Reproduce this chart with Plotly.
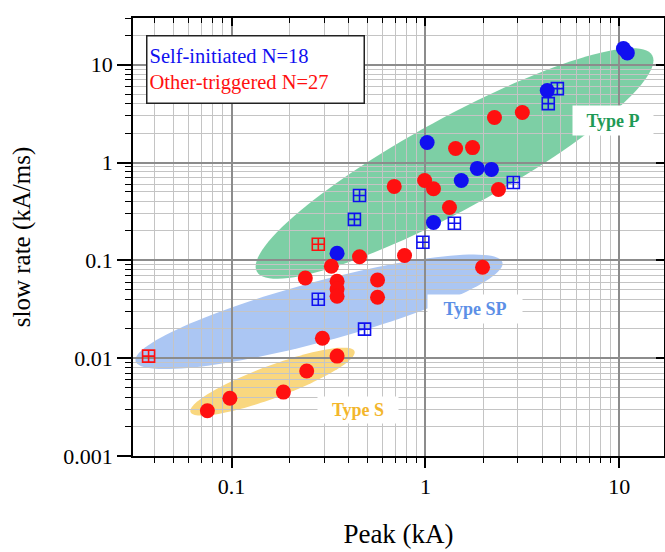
import numpy as np
import plotly.graph_objects as go

# ---------------- data ----------------
self_circle_peak = [10.5, 11.0, 4.25, 1.02, 1.53, 1.85, 2.19, 1.10, 0.35]
self_circle_rate = [14.6, 13.2, 5.43, 1.60, 0.655, 0.87, 0.85, 0.244, 0.118]

self_square_peak = [4.79, 4.30, 2.84, 1.41, 0.97, 0.457, 0.43, 0.28, 0.485]
self_square_rate = [5.69, 4.00, 0.625, 0.239, 0.153, 0.46, 0.262, 0.040, 0.0198]

other_circle_peak = [3.16, 2.27, 1.43, 1.75, 0.99, 1.10, 2.38, 1.33, 0.69,
                     0.457, 0.327, 0.78, 0.24, 0.35, 0.35, 0.35, 0.566, 0.566,
                     1.97, 0.294, 0.35, 0.244, 0.185, 0.098, 0.075]
other_circle_rate = [3.24, 2.88, 1.39, 1.42, 0.655, 0.54, 0.53, 0.347, 0.57,
                     0.109, 0.087, 0.112, 0.066, 0.061, 0.051, 0.043, 0.063, 0.042,
                     0.085, 0.016, 0.0105, 0.0074, 0.0045, 0.0039, 0.0029]

other_square_peak = [0.28, 0.0373]
other_square_rate = [0.146, 0.0105]

legend_lines = ["Self-initiated N=18", "Other-triggered N=27"]
region_labels = ["Type P", "Type SP", "Type S"]

# region ellipses in log10 space: centre, major half-vector, minor half-vector
regions = {
    "SP": dict(c=(-0.549, -1.526), u=(0.946, 0.505), v=(0.040, -0.296), color="#abc6f3"),
    "P":  dict(c=(0.150, -0.01), u=(1.02, 1.105), v=(0.112, -0.41), color="#7dcfa5"),
    "S":  dict(c=(-0.789, -2.240), u=(0.423, 0.311), v=(0.029, -0.155), color="#f9d77f"),
}

BLUE = "#1010f0"
RED = "#ff1010"
SERIF = "Liberation Serif, Times New Roman, serif"

fig = go.Figure()

# ellipses as filled paths below gridlines
t = np.linspace(0, 2 * np.pi, 121)
shapes = []
for key in ["SP", "P", "S"]:
    r = regions[key]
    lx = r["c"][0] + np.cos(t) * r["u"][0] + np.sin(t) * r["v"][0]
    ly = r["c"][1] + np.cos(t) * r["u"][1] + np.sin(t) * r["v"][1]
    xs = 10 ** lx
    ys = 10 ** ly
    path = "M " + " L ".join(f"{a:.6g},{b:.6g}" for a, b in zip(xs, ys)) + " Z"
    shapes.append(dict(type="path", path=path, xref="x", yref="y",
                       fillcolor=r["color"], line=dict(width=0), layer="below"))

fig.add_trace(go.Scatter(x=self_square_peak, y=self_square_rate, mode="markers",
                         marker=dict(symbol="square-cross-open", size=12, color=BLUE,
                                     line=dict(width=1.6, color=BLUE)),
                         showlegend=False))
fig.add_trace(go.Scatter(x=other_square_peak, y=other_square_rate, mode="markers",
                         marker=dict(symbol="square-cross-open", size=12, color=RED,
                                     line=dict(width=1.6, color=RED)),
                         showlegend=False))
fig.add_trace(go.Scatter(x=self_circle_peak, y=self_circle_rate, mode="markers",
                         marker=dict(symbol="circle", size=15, color=BLUE, line=dict(width=0)),
                         showlegend=False))
fig.add_trace(go.Scatter(x=other_circle_peak, y=other_circle_rate, mode="markers",
                         marker=dict(symbol="circle", size=15, color=RED, line=dict(width=0)),
                         showlegend=False))

xr = [np.log10(0.031), np.log10(17)]
yr = [-3, np.log10(30)]

axis_common = dict(type="log", showline=True, linecolor="black", linewidth=1.5,
                   zeroline=False)

fig.update_layout(
    width=665, height=552,
    margin=dict(l=133, r=1, t=18, b=96),
    paper_bgcolor="white", plot_bgcolor="white",
    shapes=shapes,
    font=dict(family=SERIF, color="black"),
    xaxis=dict(**axis_common, range=xr, dtick=1,
               tickvals=[0.1, 1, 10], ticktext=["0.1", "1", "10"],
               ticks="outside", ticklen=10, tickwidth=1.5, tickcolor="black",
               showgrid=True, gridcolor="#8c8c8c", gridwidth=1.8,
               minor=dict(dtick="D1", ticks="outside", ticklen=5, tickwidth=1.3,
                          tickcolor="black", showgrid=True, gridcolor="#c4c4c4", gridwidth=1.4),
               tickfont=dict(size=22, family=SERIF),
               title=dict(text="Peak (kA)", font=dict(size=27, family=SERIF), standoff=26)),
    yaxis=dict(**axis_common, range=yr, dtick=1,
               tickvals=[0.001, 0.01, 0.1, 1, 10], ticktext=["0.001", "0.01", "0.1", "1", "10"],
               ticks="outside", ticklen=14, tickwidth=1.5, tickcolor="black",
               showgrid=True, gridcolor="#8c8c8c", gridwidth=1.8,
               minor=dict(dtick="D1", ticks="outside", ticklen=6, tickwidth=1.3,
                          tickcolor="black", showgrid=True, gridcolor="#c4c4c4", gridwidth=1.4),
               tickfont=dict(size=22, family=SERIF),
               title=dict(text="slow rate (kA/ms)", font=dict(size=25, family=SERIF), standoff=26)),
    xaxis2=dict(**axis_common, range=xr, overlaying="x", side="top", anchor="y",
                matches="x", dtick=1, ticks="inside", ticklen=8, tickwidth=1.5, tickcolor="black",
                showticklabels=False, showgrid=False,
                minor=dict(dtick="D1", ticks="inside", ticklen=5, tickwidth=1.3, tickcolor="black",
                           showgrid=False)),
    yaxis2=dict(**axis_common, range=yr, overlaying="y", side="right", anchor="x",
                matches="y", dtick=1, ticks="inside", ticklen=8, tickwidth=1.5, tickcolor="black",
                showticklabels=False, showgrid=False),
)

# invisible trace to make overlay axes render
fig.add_trace(go.Scatter(x=[1], y=[1], xaxis="x2", yaxis="y2", mode="markers",
                         marker=dict(opacity=0), showlegend=False, hoverinfo="skip"))

annotations = [
    dict(xref="paper", yref="paper", x=0.2298, y=0.882, xanchor="center", yanchor="middle",
         text=f"<span style='color:{BLUE}'>{legend_lines[0]}</span><br>"
              f"<span style='color:{RED}'>{legend_lines[1]}</span>",
         showarrow=False, align="left", valign="middle", width=212, height=62,
         bgcolor="white", bordercolor="#222", borderwidth=1.5, borderpad=2,
         font=dict(size=20.5, family=SERIF)),
    dict(xref="paper", yref="paper", x=0.904, y=0.767, xanchor="center", yanchor="middle",
         text=f"<b>{region_labels[0]}</b>",
         showarrow=False, bgcolor="white", width=80, height=29, borderpad=0,
         font=dict(size=18, family=SERIF, color="#1f9a56")),
    dict(xref="paper", yref="paper", x=0.644, y=0.336, xanchor="center", yanchor="middle",
         text=f"<b>{region_labels[1]}</b>",
         showarrow=False, bgcolor="white", width=94, height=28, borderpad=0,
         font=dict(size=18, family=SERIF, color="#5c8fe6")),
    dict(xref="paper", yref="paper", x=0.424, y=0.105, xanchor="center", yanchor="middle",
         text=f"<b>{region_labels[2]}</b>",
         showarrow=False, bgcolor="white", width=80, height=26, borderpad=0,
         font=dict(size=18, family=SERIF, color="#f3b62c")),
]
fig.update_layout(annotations=annotations)

fig.write_html("out.html", config={"displayModeBar": False},
               post_script="document.body.style.margin='0px';")
